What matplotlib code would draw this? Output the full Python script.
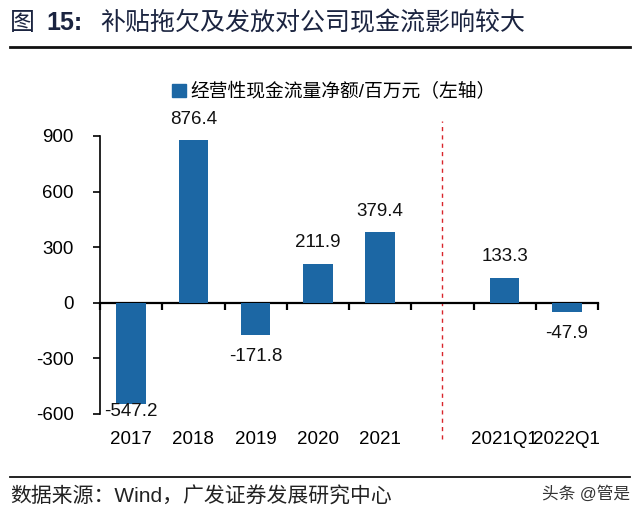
import matplotlib
matplotlib.use("Agg")
import matplotlib.pyplot as plt
import matplotlib.transforms as mtransforms
from matplotlib.lines import Line2D
from matplotlib.patches import Patch
import numpy as np

categories = ["2017", "2018", "2019", "2020", "2021", "", "2021Q1", "2022Q1"]
values = [-547.2, 876.4, -171.8, 211.9, 379.4, np.nan, 133.3, -47.9]
yticks = [-600, -300, 0, 300, 600, 900]
legend_label = "经营性现金流量净额/百万元（左轴）"
title_prefix = "图"
title_num = "15:"
title_rest = "补贴拖欠及发放对公司现金流影响较大"
source_text = "数据来源：Wind，广发证券发展研究中心"
watermark = "头条 @管是"

plt.rcParams['font.family'] = ['Liberation Sans', 'Noto Sans CJK SC', 'DejaVu Sans']

W, H = 640, 517
fig = plt.figure(figsize=(W / 100, H / 100), dpi=100)
ax = fig.add_axes([100 / W, 1 - 414 / H, (598 - 100) / W, (414 - 136) / H])

bar_color = "#1C67A4"
x = np.arange(len(categories))
vals = np.array(values, dtype=float)
ax.bar(x, np.nan_to_num(vals), width=0.47, color=bar_color, zorder=3,
       label=legend_label)

ax.set_xlim(-0.5, len(categories) - 0.5)
ax.set_ylim(-600, 900)
ax.set_yticks(yticks)
ax.set_yticklabels([str(v) for v in yticks], fontsize=13.5)
ax.tick_params(axis='y', direction='out', length=5, width=1.2, pad=14)

for s in ['top', 'right']:
    ax.spines[s].set_visible(False)
ax.spines['left'].set_linewidth(1.2)
ax.spines['bottom'].set_position(('data', 0))
ax.spines['bottom'].set_linewidth(1.6)
ax.set_xticks(np.arange(-0.5, len(categories), 1.0))
ax.set_xticklabels([])
ax.tick_params(axis='x', direction='out', length=5, width=1.6)

sec = ax.secondary_xaxis('bottom')
sec.set_xticks(x)
sec.set_xticklabels(categories, fontsize=13.5)
sec.tick_params(length=0, pad=12)
sec.spines['bottom'].set_visible(False)

# data labels
for xi, v in zip(x, vals):
    if np.isnan(v):
        continue
    if v >= 0:
        yc = v + 115
    else:
        yc = max(v - 120, -588)
    ax.text(xi, yc, f"{v:.1f}", ha='center', va='center', fontsize=13.5,
            color='#111111', zorder=4)

# dashed separator
trans = mtransforms.blended_transform_factory(ax.transData, ax.transAxes)
ax.plot([5, 5], [-0.09, 1.055], transform=trans, color='#D9252B',
        lw=1.0, ls=(0, (3, 3)), clip_on=False, zorder=2)

# legend
handle = Patch(facecolor=bar_color, edgecolor=bar_color)
fig.legend([handle], [legend_label], loc='center', bbox_to_anchor=(334 / W, 1 - 92 / H),
           frameon=False, fontsize=13.5, handlelength=0.75, handleheight=0.75,
           handletextpad=0.25, borderaxespad=0)

# title
tc = '#1B2440'
fig.text(10 / W, 1 - 23 / H, title_prefix, fontsize=18, color=tc, va='center', ha='left',
         fontweight='medium')
fig.text(46 / W, 1 - 23 / H, title_num, fontsize=18, color=tc, va='center', ha='left',
         fontweight='bold')
fig.text(100 / W, 1 - 23 / H, title_rest, fontsize=18, color=tc, va='center', ha='left',
         fontweight='medium')
fig.add_artist(Line2D([10 / W, 630 / W], [1 - 47 / H, 1 - 47 / H], color='#111111', lw=2))

# footer
fig.add_artist(Line2D([10 / W, 630 / W], [1 - 477 / H, 1 - 477 / H], color='#111111', lw=1.3))
fig.text(10 / W, 1 - 497 / H, source_text, fontsize=15, color='#222222', va='center', ha='left')
fig.text(630 / W, 1 - 494 / H, watermark, fontsize=12, color='#333333', va='center', ha='right')

fig.savefig("out.png", dpi=100)
